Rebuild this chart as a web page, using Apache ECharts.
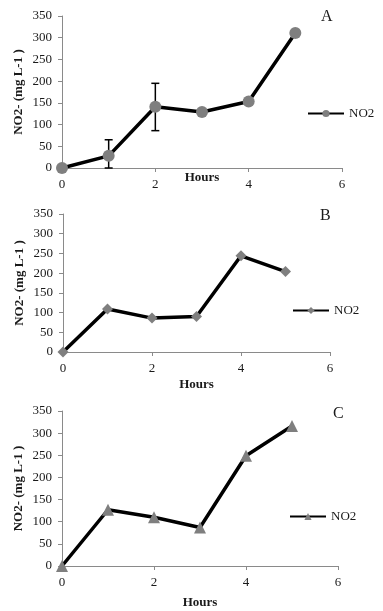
<!DOCTYPE html>
<html>
<head>
<meta charset="utf-8">
<script src="https://cdn.jsdelivr.net/npm/echarts@6/dist/echarts.min.js"></script>
<style>
  html, body { margin: 0; padding: 0; background: #fff; }
  #main { width: 383px; height: 611px; }
</style>
</head>
<body>
<div id="main"></div>
<script>
// data
var hours = [0, 1, 2, 3, 4, 5];
var no2A = [0, 28, 141, 129, 153, 311];
var no2B = [0, 109, 86, 90, 244, 204];
var no2C = [0, 127, 110, 87, 249, 316];
// error bars on panel A
var errX = [1, 2];
var errLow = [0, 86];
var errHigh = [65, 195];
var panels = ['A', 'B', 'C'];

var serif = '"Liberation Serif", "Times New Roman", serif';
var axisGrey = '#8a8a8a';
var ink = '#1a1a1a';

var chart = echarts.init(document.getElementById('main'));

var grids = [
    {left: 62, top: 16, width: 280, height: 152},
    {left: 63, top: 214, width: 267, height: 138},
    {left: 62, top: 411, width: 276, height: 155}
];
var hoursGap = [3, 26, 30];

var xAxes = grids.map(function (g, i) {
    return {
        gridIndex: i,
        type: 'value',
        min: 0, max: 6, interval: 2,
        name: 'Hours',
        nameLocation: 'middle',
        nameGap: hoursGap[i],
        nameMoveOverlap: false,
        nameTextStyle: {fontFamily: serif, fontSize: 13, fontWeight: 'bold', color: ink},
        axisLine: {lineStyle: {color: axisGrey, width: 1}},
        axisTick: {show: true, length: 4, lineStyle: {color: axisGrey}},
        axisLabel: {fontFamily: serif, fontSize: 13, color: ink, margin: 10},
        splitLine: {show: false}
    };
});

var yAxes = grids.map(function (g, i) {
    return {
        gridIndex: i,
        type: 'value',
        min: 0, max: 350, interval: 50,
        name: 'NO2- (mg L-1 )',
        nameLocation: 'middle',
        nameGap: 37,
        nameMoveOverlap: false,
        nameTextStyle: {fontFamily: serif, fontSize: 13, fontWeight: 'bold', color: ink},
        axisLine: {show: true, lineStyle: {color: axisGrey, width: 1}},
        axisTick: {show: true, length: 4, lineStyle: {color: axisGrey}},
        axisLabel: {fontFamily: serif, fontSize: 13, color: ink, margin: 10},
        splitLine: {show: false}
    };
});

var toPairs = function (ys) {
    return hours.map(function (h, k) { return [h, ys[k]]; });
};

var lineSeries = function (name, ys, idx, symbol, size) {
    return {
        name: name,
        type: 'line',
        xAxisIndex: idx,
        yAxisIndex: idx,
        data: toPairs(ys),
        symbol: symbol,
        symbolSize: size,
        showAllSymbol: true,
        clip: false,
        z: 3,
        itemStyle: {color: '#7f7f7f'},
        lineStyle: {color: '#000', width: 3.5}
    };
};

var option = {
    animation: false,
    backgroundColor: '#fff',
    grid: grids.map(function (g) {
        return Object.assign({outerBoundsMode: 'none'}, g);
    }),
    xAxis: xAxes,
    yAxis: yAxes,
    title: [
        {text: panels[0], left: 321, top: 9},
        {text: panels[1], left: 320, top: 208},
        {text: panels[2], left: 333, top: 406}
    ].map(function (t) {
        t.padding = 0;
        t.textStyle = {fontFamily: serif, fontSize: 16, fontWeight: 'normal', color: ink};
        return t;
    }),
    legend: [
        {data: ['NO2 A'], left: 307, top: 107},
        {data: ['NO2 B'], left: 292, top: 304},
        {data: ['NO2 C'], left: 289, top: 510}
    ].map(function (l) {
        l.padding = 0;
        l.itemWidth = 36;
        l.itemHeight = 9;
        l.selectedMode = false;
        l.formatter = function () { return 'NO2'; };
        l.textStyle = {fontFamily: serif, fontSize: 13, color: ink};
        return l;
    }),
    series: [
        {
            type: 'custom',
            xAxisIndex: 0,
            yAxisIndex: 0,
            z: 1,
            silent: true,
            data: errX.map(function (x, k) { return [x, errLow[k], errHigh[k]]; }),
            renderItem: function (params, api) {
                var top = api.coord([api.value(0), api.value(2)]);
                var bot = api.coord([api.value(0), api.value(1)]);
                var w = 4;
                var style = {stroke: '#000', lineWidth: 1.5};
                return {
                    type: 'group',
                    children: [
                        {type: 'line', shape: {x1: top[0], y1: top[1], x2: bot[0], y2: bot[1]}, style: style},
                        {type: 'line', shape: {x1: top[0] - w, y1: top[1], x2: top[0] + w, y2: top[1]}, style: style},
                        {type: 'line', shape: {x1: bot[0] - w, y1: bot[1], x2: bot[0] + w, y2: bot[1]}, style: style}
                    ]
                };
            }
        },
        lineSeries('NO2 A', no2A, 0, 'circle', 12),
        lineSeries('NO2 B', no2B, 1, 'diamond', 11),
        lineSeries('NO2 C', no2C, 2, 'triangle', 12)
    ]
};

chart.setOption(option);
</script>
</body>
</html>
